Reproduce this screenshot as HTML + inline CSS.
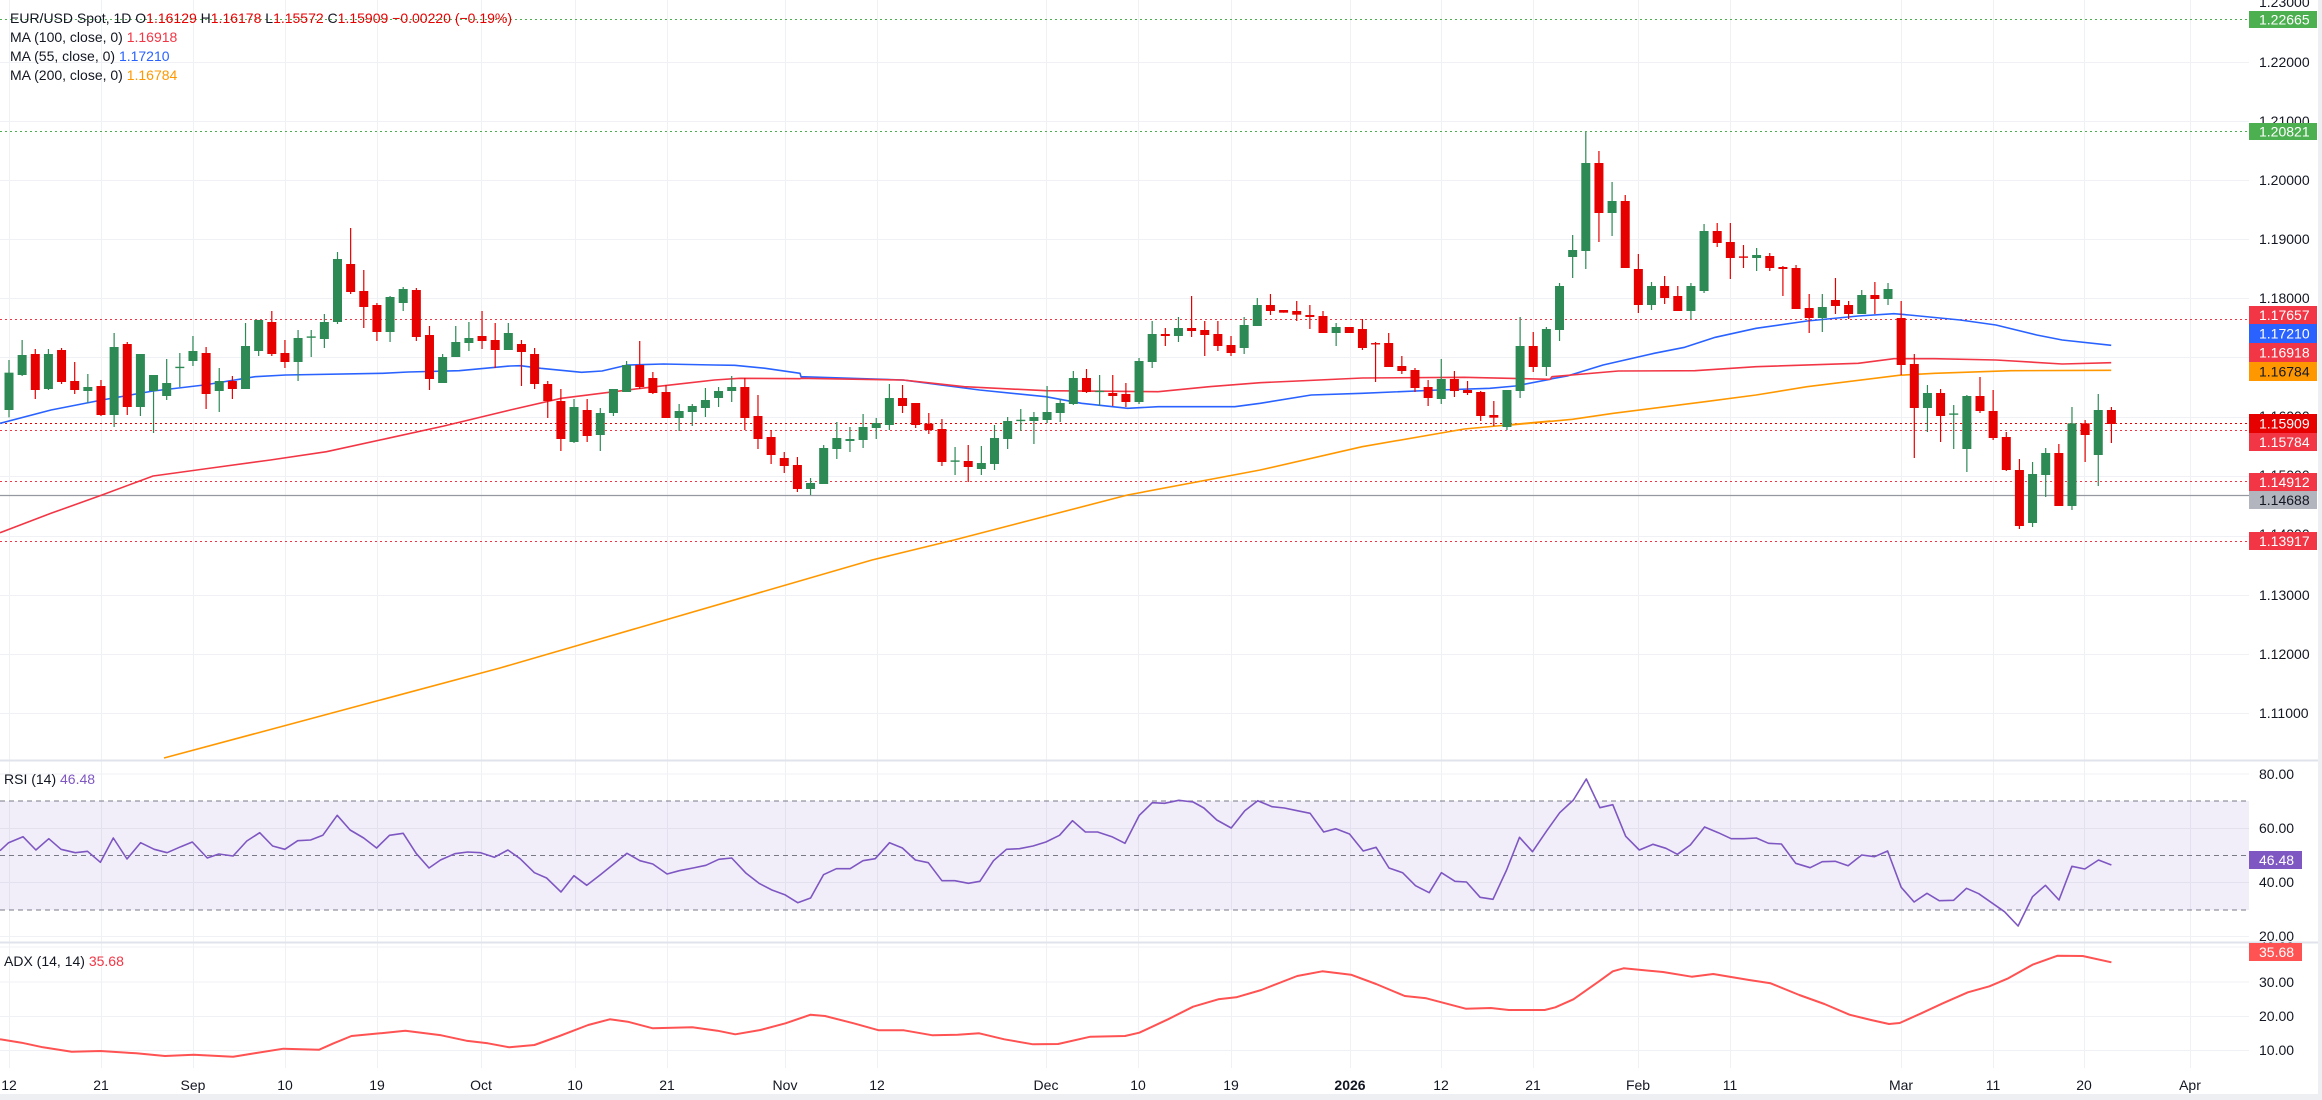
<!DOCTYPE html>
<html><head><meta charset="utf-8">
<style>
html,body{margin:0;padding:0;background:#fff;}
body{width:2322px;height:1100px;overflow:hidden;position:relative;font-family:"Liberation Sans",sans-serif;}
svg{position:absolute;left:0;top:0;}
.t{font-family:"Liberation Sans",sans-serif;font-size:14px;fill:#131722;}
.ax{font-family:"Liberation Sans",sans-serif;font-size:14px;fill:#131722;}
.bx{font-family:"Liberation Sans",sans-serif;font-size:14px;fill:#fff;}
</style></head><body>
<svg id="s" width="2322" height="1100" viewBox="0 0 2322 1100">
<rect x="0" y="0" width="2322" height="1100" fill="#fff"/>
<g id="grid"></g>
<!-- RSI band -->
<rect x="0" y="801" width="2249" height="109" fill="#7e57c2" fill-opacity="0.1"/>
<line x1="0" y1="801" x2="2249" y2="801" stroke="#787b86" stroke-dasharray="5,4"/>
<line x1="0" y1="855.5" x2="2249" y2="855.5" stroke="#787b86" stroke-dasharray="5,4"/>
<line x1="0" y1="910" x2="2249" y2="910" stroke="#787b86" stroke-dasharray="5,4"/>
<!-- pane separators -->
<line x1="0" y1="760.5" x2="2322" y2="760.5" stroke="#e0e3eb" stroke-width="2"/>
<line x1="0" y1="942.5" x2="2322" y2="942.5" stroke="#e0e3eb" stroke-width="2"/>
<rect x="0" y="1094" width="2322" height="6" fill="#eeeff3"/>
<rect x="2318" y="0" width="4" height="1100" fill="#eeeff3"/>
<!-- horizontal level lines -->
<line x1="0" y1="19.5" x2="2249" y2="19.5" stroke="#4caf50" stroke-dasharray="2,3"/>
<line x1="0" y1="131.5" x2="2249" y2="131.5" stroke="#4caf50" stroke-dasharray="2,3"/>
<line x1="0" y1="319.5" x2="2249" y2="319.5" stroke="#f23645" stroke-dasharray="2,3"/>
<line x1="0" y1="423.5" x2="2249" y2="423.5" stroke="#e60000" stroke-dasharray="2,3"/>
<line x1="0" y1="430.5" x2="2249" y2="430.5" stroke="#f23645" stroke-dasharray="2,3"/>
<line x1="0" y1="481.5" x2="2249" y2="481.5" stroke="#f23645" stroke-dasharray="2,3"/>
<line x1="0" y1="495.5" x2="2249" y2="495.5" stroke="#9598a1" stroke-width="1.2"/>
<line x1="0" y1="541.5" x2="2249" y2="541.5" stroke="#f23645" stroke-dasharray="2,3"/>
<g id="ma"></g>
<g id="candles"></g>
<g id="ind"></g>
<!-- legend -->
<text class="t" x="10" y="23">EUR/USD Spot, 1D  O<tspan fill="#e60000">1.16129</tspan>  H<tspan fill="#e60000">1.16178</tspan>  L<tspan fill="#e60000">1.15572</tspan>  C<tspan fill="#e60000">1.15909</tspan>  <tspan fill="#e60000">−0.00220 (−0.19%)</tspan></text>
<text class="t" x="10" y="42">MA (100, close, 0)  <tspan fill="#f23645">1.16918</tspan></text>
<text class="t" x="10" y="61">MA (55, close, 0)  <tspan fill="#2962ff">1.17210</tspan></text>
<text class="t" x="10" y="80">MA (200, close, 0)  <tspan fill="#ff9800">1.16784</tspan></text>
<text class="t" x="4" y="784">RSI (14)  <tspan fill="#7e57c2">46.48</tspan></text>
<text class="t" x="4" y="966">ADX (14, 14)  <tspan fill="#f23645">35.68</tspan></text>
<!-- price axis labels -->
<g class="ax">
<text x="2259" y="7">1.23000</text>
<text x="2259" y="67">1.22000</text>
<text x="2259" y="126">1.21000</text>
<text x="2259" y="185">1.20000</text>
<text x="2259" y="244">1.19000</text>
<text x="2259" y="303">1.18000</text>
<text x="2259" y="362">1.17000</text>
<text x="2259" y="421">1.16000</text>
<text x="2259" y="480">1.15000</text>
<text x="2259" y="539">1.14000</text>
<text x="2259" y="600">1.13000</text>
<text x="2259" y="659">1.12000</text>
<text x="2259" y="718">1.11000</text>
<text x="2259" y="779">80.00</text>
<text x="2259" y="833">60.00</text>
<text x="2259" y="887">40.00</text>
<text x="2259" y="941">20.00</text>
<text x="2259" y="952">40.00</text>
<text x="2259" y="987">30.00</text>
<text x="2259" y="1021">20.00</text>
<text x="2259" y="1055">10.00</text>
</g>
<!-- value boxes -->
<g>
<rect x="2249" y="11" width="68" height="17" fill="#4caf50"/><text class="bx" x="2259" y="24.5">1.22665</text>
<rect x="2249" y="123" width="68" height="17" fill="#4caf50"/><text class="bx" x="2259" y="136.5">1.20821</text>
<rect x="2249" y="306" width="68" height="18" fill="#f23645"/><text class="bx" x="2259" y="320">1.17657</text>
<rect x="2249" y="324" width="68" height="19" fill="#2962ff"/><text class="bx" x="2259" y="338.5">1.17210</text>
<rect x="2249" y="343" width="68" height="19" fill="#f23645"/><text class="bx" x="2259" y="357.5">1.16918</text>
<rect x="2249" y="362" width="68" height="19" fill="#ff9800"/><text class="ax" x="2259" y="376.5">1.16784</text>
<rect x="2249" y="414" width="68" height="19" fill="#e60000"/><text class="bx" x="2259" y="428.5">1.15909</text>
<rect x="2249" y="433" width="68" height="18" fill="#f23645"/><text class="bx" x="2259" y="447">1.15784</text>
<rect x="2249" y="473" width="68" height="18" fill="#f23645"/><text class="bx" x="2259" y="487">1.14912</text>
<rect x="2249" y="491" width="68" height="18" fill="#b2b5be"/><text class="ax" x="2259" y="505">1.14688</text>
<rect x="2249" y="532" width="68" height="18" fill="#f23645"/><text class="bx" x="2259" y="546">1.13917</text>
<rect x="2249" y="851" width="53" height="18" fill="#7e57c2"/><text class="bx" x="2259" y="865">46.48</text>
<rect x="2249" y="943" width="53" height="18" fill="#ff5252"/><text class="bx" x="2259" y="957">35.68</text>
</g>
<!-- time axis -->
<g class="ax" text-anchor="middle">
<text x="9" y="1090">12</text><text x="101" y="1090">21</text><text x="193" y="1090">Sep</text>
<text x="285" y="1090">10</text><text x="377" y="1090">19</text><text x="481" y="1090">Oct</text>
<text x="575" y="1090">10</text><text x="667" y="1090">21</text><text x="785" y="1090">Nov</text>
<text x="877" y="1090">12</text><text x="1046" y="1090">Dec</text><text x="1138" y="1090">10</text>
<text x="1231" y="1090">19</text><text x="1350" y="1090" font-weight="bold">2026</text>
<text x="1441" y="1090">12</text><text x="1533" y="1090">21</text><text x="1638" y="1090">Feb</text>
<text x="1730" y="1090">11</text><text x="1901" y="1090">Mar</text><text x="1993" y="1090">11</text>
<text x="2084" y="1090">20</text><text x="2190" y="1090">Apr</text>
</g>
</svg>
<script>
(function(){
var NS="http://www.w3.org/2000/svg";
function el(p,n,a){var e=document.createElementNS(NS,n);for(var k in a)e.setAttribute(k,a[k]);p.appendChild(e);return e;}
var grid=document.getElementById('grid');
var gx=[9,101,193,285,377,481,575,667,785,877,1046,1138,1231,1350,1441,1533,1638,1730,1901,1993,2084,2190];
gx.forEach(function(x){el(grid,'line',{x1:x+.5,y1:0,x2:x+.5,y2:1068,stroke:'#f0f1f4'});});
[62,121,180,239,298,357,417,476,536,595,654,713].forEach(function(y){el(grid,'line',{x1:0,y1:y+.5,x2:2249,y2:y+.5,stroke:'#f0f1f4'});});
[774,828.5,882.5,936.5,947,982,1016.5,1050.5].forEach(function(y){el(grid,'line',{x1:0,y1:y,x2:2249,y2:y,stroke:'#f0f1f4'});});
function cv(list,ox,oy,fx,fy){var a=[];for(var i=0;i<list.length;i+=2)a.push((ox+list[i]/fx).toFixed(1)+','+(oy+list[i+1]/fy).toFixed(1));return a;}
function line(pts,col,w,g){el(document.getElementById(g||'ma'),'polyline',{points:pts.join(' '),fill:'none',stroke:col,'stroke-width':w||1.6,'stroke-linejoin':'round'});}
// MA55 blue
var b=cv([0,730,100,690,200,660,300,633,400,615,500,590,560,585,750,580,800,576,900,572,1000,558,1020,557,1060,565,1140,577,1180,573,1230,555,1300,552,1400,555,1440,556,1500,565,1568,580],0,180,1.96,3)
 .concat(cv([100,410,300,420,450,450,580,470,650,490,740,505,800,500,950,500,1000,490,1100,465,1200,460,1350,450,1450,445,1500,438,1568,418],750,240,1.96,3))
 .concat(cv([200,836,230,828,300,795,400,760,460,742,520,712,600,685,700,663,800,648,870,641,900,645,1000,660,1070,675,1150,705,1200,720,1296,736],1450,100,1.96,3));
line(b,'#2962ff');
var r=cv([0,1058,100,1000,200,945,300,888,400,867,530,840,640,815,760,775,870,738,1000,690,1100,655,1250,626,1400,600,1450,595,1568,596],0,180,1.96,3)
 .concat(cv([100,415,300,420,420,440,580,452,800,455,900,440,1000,428,1200,414,1400,412,1568,418],750,240,1.96,3))
 .concat(cv([200,830,330,813,480,812,600,800,800,790,870,776,950,776,1070,780,1200,792,1296,788],1450,100,1.96,3));
line(r,'#f23645');
var o=['164,758','500,668','872,560'].concat(cv([400,900,740,765,1000,690,1200,620,1400,567,1484,555,1568,543],750,240,1.96,3))
 .concat(cv([120,975,240,958,320,940,500,905,600,885,700,860,880,826,950,820,1100,812,1296,811],1450,100,1.96,3));
line(o,'#ff9800');
// candles [top,bottom,H,L,c]
var C=document.getElementById('candles');
function X(i){return 9+13.14*i;}
function dc(i,t,bm,h,l,c,oy){var col=c=='g'?'#2d8a55':'#e60000';var x=X(i);
 var T=oy+t/3,B=oy+bm/3,H=oy+h/3,L=oy+l/3;
 el(C,'line',{x1:x,y1:H,x2:x,y2:L,stroke:col,'stroke-width':1.2});
 if(B-T<1.2){el(C,'rect',{x:x-4.5,y:T-0.6,width:9,height:1.4,fill:col});}
 else el(C,'rect',{x:x-4.5,y:T,width:9,height:B-T,fill:col});}
var z6=[[578,690,540,712,'g'],[525,585,480,588,'g'],[522,630,507,657,'r'],[522,627,507,630,'g'],[510,606,504,612,'r'],[603,630,546,642,'r'],[621,633,582,669,'g'],[618,705,600,708,'r'],[501,705,459,741,'g'],[492,681,486,705,'r'],[522,681,522,708,'g'],[585,633,585,759,'g'],[609,648,537,660,'g'],[562,562,519,621,'g'],[513,543,468,558,'g'],[519,642,501,687,'r'],[603,633,564,696,'g'],[603,627,588,657,'r'],[498,627,429,627,'g'],[420,513,420,528,'g'],[426,522,393,528,'r'],[519,546,480,564,'r'],[474,546,450,603,'g'],[471,471,450,531,'g'],[426,477,402,504,'g'],[237,426,216,432,'g'],[252,336,144,342,'r'],[333,381,270,444,'r'],[375,456,369,483,'r'],[351,456,348,486,'g'],[327,369,321,393,'g'],[330,471,324,483,'r'],[465,597,438,630,'r'],[531,609,522,609,'g'],[486,531,438,531,'g'],[474,489,426,513,'g'],[468,483,393,507,'r'],[480,510,429,564,'r'],[459,510,429,510,'g'],[492,516,480,618,'r'],[522,612,504,627,'r'],[612,663,603,714,'r'],[663,777,627,813,'r'],[681,786,657,789,'g'],[690,768,657,786,'r'],[699,765,684,813,'g'],[627,699,627,708,'g'],[555,636,543,636,'g'],[555,621,483,627,'r'],[594,639,576,642,'r'],[636,714,615,714,'r'],[693,714,672,753,'g'],[678,696,672,738,'g'],[660,684,624,711,'g'],[633,654,621,681,'g'],[621,633,588,666,'g'],[621,714,594,750,'r'],[708,777,645,807,'r'],[771,825,750,852,'r'],[834,858,816,879,'r'],[855,927,831,936,'r']];
z6.forEach(function(d,i){dc(i,d[0],d[1],d[2],d[3],d[4],180);});
var z7=[[729,747,714,765,'g'],[624,732,615,732,'g'],[594,627,546,657,'g'],[597,603,561,636,'g'],[561,600,522,624,'g'],[549,564,534,597,'g'],[474,555,432,570,'g'],[474,498,435,519,'r'],[489,555,489,564,'r'],[551,570,519,582,'r'],[567,666,537,678,'r'],[663,663,621,705,'g'],[663,681,615,726,'r'],[669,687,618,705,'g'],[594,672,555,690,'g'],[543,597,531,627,'g'],[541,541,507,573,'g'],[531,543,516,612,'g'],[516,540,438,549,'g'],[489,519,477,546,'g'],[414,492,393,495,'g'],[414,456,387,459,'r'],[454,454,405,498,'g'],[459,468,405,498,'r'],[462,486,429,501,'r'],[363,486,354,492,'g'],[282,366,243,384,'g'],[282,288,264,318,'r'],[264,288,231,306,'g'],[264,273,168,291,'r'],[270,285,243,348,'r'],[282,318,243,333,'r'],[315,339,288,348,'r'],[255,324,231,342,'g'],[195,258,174,258,'g'],[195,213,162,225,'r'],[210,218,210,218,'r'],[213,224,183,243,'r'],[225,231,195,267,'r'],[228,279,213,279,'r'],[261,279,249,318,'g'],[261,279,261,279,'r'],[267,324,237,330,'r'],[311,311,306,426,'r'],[309,381,279,381,'r'],[378,393,348,402,'r'],[390,444,384,456,'r'],[441,474,420,498,'r'],[417,477,357,492,'g'],[417,453,393,471,'r'],[450,459,423,465,'r'],[456,528,453,543,'r'],[525,533,483,558,'r'],[450,561,450,570,'g'],[318,453,231,474,'g'],[318,381,276,396,'r'],[267,381,261,408,'g']];
z7.forEach(function(d,k){dc(61+k,d[0],d[1],d[2],d[3],d[4],240);});
var z8=[[558,690,549,723,'g'],[450,471,405,534,'g'],[189,453,96,507,'g'],[189,339,153,426,'r'],[303,339,246,408,'g'],[303,504,285,504,'r'],[507,615,462,639,'r'],[558,615,546,630,'g'],[558,594,528,612,'r'],[588,633,558,633,'r'],[558,633,549,657,'g'],[393,573,372,579,'g'],[393,429,369,441,'r'],[426,474,369,537,'r'],[471,471,435,504,'r'],[465,474,444,513,'g'],[468,504,459,513,'r'],[501,507,498,588,'r'],[504,627,495,627,'r'],[624,654,582,699,'r'],[621,654,582,696,'g'],[600,618,534,642,'r'],[615,642,603,657,'r'],[585,642,570,642,'g'],[585,597,546,642,'r'],[567,597,549,615,'g'],[654,795,603,825,'r'],[792,924,762,1074,'r'],[879,924,855,996,'g'],[879,948,867,1026,'r'],[942,942,915,1047,'g'],[888,1047,885,1116,'g'],[888,933,831,939,'r'],[933,1014,870,1020,'r'],[1011,1110,996,1113,'r'],[1110,1278,1077,1287,'r'],[1122,1269,1086,1281,'g'],[1059,1125,1044,1191,'g'],[1059,1218,1032,1218,'r'],[970,1218,921,1230,'g'],[970,1005,960,1086,'r'],[930,1065,882,1158,'g'],[930,972,921,1029,'r']];
z8.forEach(function(d,k){dc(118+k,d[0],d[1],d[2],d[3],d[4],100);});
// RSI
var rs=cv([0,272,12,248,32,230,50,270,68,236,85,268,105,278,122,274,140,307,158,234,177,297,196,248,215,268,233,278,252,260,268,246,289,294,305,282,325,288,344,243,362,218,380,258,397,268,415,242,433,240,450,226,470,166,488,210,507,234,525,264,543,226,562,220,580,280,598,324,614,300,634,281,652,276,670,278,689,292,708,270,725,296,745,338,762,354,782,396,800,347,818,376,837,344,874,280,892,302,910,312,930,342,947,332,966,324,984,316,1002,298,1020,294,1040,340,1058,370,1076,390,1094,404,1112,428,1130,414,1148,344,1166,326,1185,326,1203,302,1220,296,1240,248,1258,264,1276,300,1294,308,1313,362,1331,362,1350,370,1366,364,1385,302,1403,268,1421,266,1440,258,1458,246,1477,226,1495,182,1513,216,1530,216,1550,230],0,760,1.394,3)
 .concat(cv([0,250,20,166,38,128,55,130,75,121,95,126,110,144,128,180,148,204,167,152,185,122,205,140,222,144,240,152,258,160,277,216,294,206,313,222,332,273,350,262,368,324,387,338,405,377,424,398,441,338,460,364,476,366,495,412,513,418,532,330,550,232,568,275,588,212,606,158,625,120,643,57,662,143,680,134,698,229,717,270,736,253,754,265,770,283,788,255,808,201,827,218,845,236,863,236,880,234,897,250,915,252,935,310,955,323,972,305,990,304,1008,317,1027,285,1045,290,1063,273,1082,382,1100,426,1118,400,1135,422,1155,421,1173,385,1190,401,1208,428,1226,455,1245,498,1265,410,1283,376,1302,420,1320,319,1338,327,1357,300,1375,315],1125,760,1.394,3));
line(rs,'#7e57c2',1.6,'ind');
var ad=cv([0,838,30,848,60,862,100,875,140,873,190,880,230,888,270,884,325,890,355,880,395,866,445,869,465,850,490,828,530,820,565,812,615,826,650,842,680,850,710,862,745,855,780,828,820,795,850,778,875,785,910,805,965,802,1000,812,1025,823,1060,810,1095,790,1130,764,1150,768,1190,790,1225,811,1260,811,1300,826,1335,824,1365,820,1400,838,1440,853,1475,852,1520,830],0,760,1.394,3)
 .concat(cv([0,828,20,818,60,778,95,740,130,718,155,712,190,690,240,648,275,634,315,644,350,672,390,708,420,715,475,746,510,744,535,750,585,750,600,742,625,718,660,665,680,634,695,625,750,636,790,650,820,642,870,660,900,670,940,705,975,732,1010,764,1040,780,1065,792,1080,789,1110,760,1140,730,1175,697,1205,679,1230,656,1265,614,1300,587,1335,588,1375,607],1125,760,1.394,3));
line(ad,'#ff5252',2,'ind');
})();
</script>
</body></html>
